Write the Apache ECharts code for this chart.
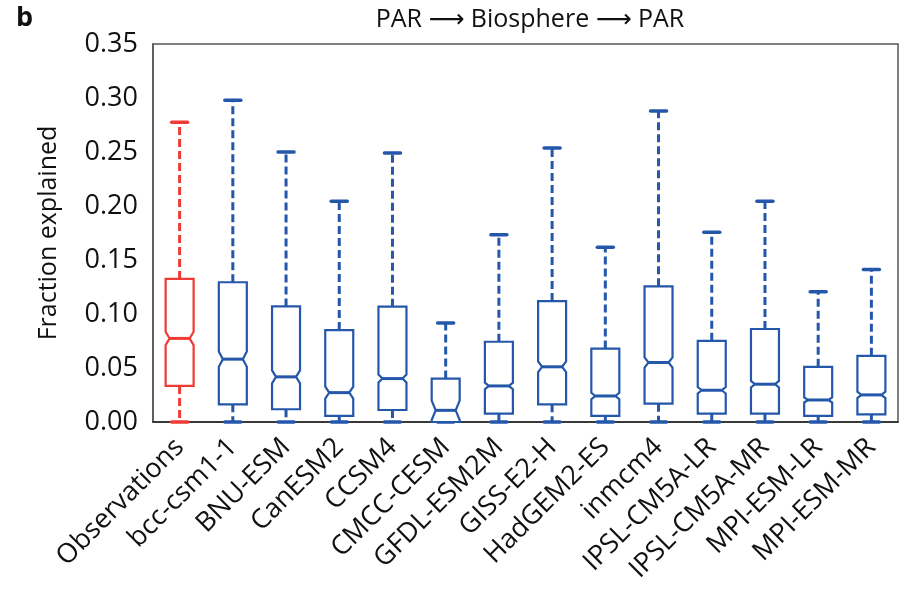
<!DOCTYPE html>
<html>
<head>
<meta charset="utf-8">
<title>PAR → Biosphere → PAR</title>
<script src="https://cdn.jsdelivr.net/npm/echarts@6/dist/echarts.min.js"></script>
<style>
  html, body { margin: 0; padding: 0; background: #fff; }
  #chart { width: 904px; height: 591px; }
</style>
</head>
<body>
<div id="chart"></div>
<script>
// Box statistics for each dataset (fraction explained)
const categories = ['Observations', 'bcc-csm1-1', 'BNU-ESM', 'CanESM2', 'CCSM4', 'CMCC-CESM',
  'GFDL-ESM2M', 'GISS-E2-H', 'HadGEM2-ES', 'inmcm4', 'IPSL-CM5A-LR', 'IPSL-CM5A-MR',
  'MPI-ESM-LR', 'MPI-ESM-MR'];
const whiskerLow  = [0, 0, 0, 0, 0, 0, 0, 0, 0, 0, 0, 0, 0, 0];
const lowerQuart  = [0.0334, 0.0164, 0.0118, 0.0056, 0.0111, 0.0, 0.0077, 0.0164, 0.0056, 0.0170, 0.0077, 0.0077, 0.0056, 0.0071];
const medians     = [0.0774, 0.0582, 0.0418, 0.0272, 0.0402, 0.0108, 0.0334, 0.0511, 0.0241, 0.0551, 0.0294, 0.0350, 0.0204, 0.0251];
const upperQuart  = [0.1325, 0.1294, 0.1070, 0.0851, 0.1068, 0.0402, 0.0743, 0.1120, 0.0680, 0.1256, 0.0752, 0.0861, 0.0511, 0.0613];
const whiskerHigh = [0.2776, 0.2980, 0.2500, 0.2043, 0.2490, 0.0916, 0.1733, 0.2538, 0.1618, 0.2880, 0.1758, 0.2043, 0.1207, 0.1411];
// half-height of the median notch (confidence interval of the median)
const notchHalf   = [0.0062, 0.0070, 0.0060, 0.0055, 0.0037, 0.0090, 0.0030, 0.0050, 0.0030, 0.0047, 0.0030, 0.0030, 0.0023, 0.0030];
const yTicks = [0, 0.05, 0.10, 0.15, 0.20, 0.25, 0.30, 0.35];

const RED = '#ef3b34';
const BLUE = '#2457aa';
const FONT = '"Open Sans", "Noto Sans", "DejaVu Sans", sans-serif';

const seriesData = categories.map((c, i) => [i, whiskerLow[i], lowerQuart[i], medians[i], upperQuart[i], whiskerHigh[i], notchHalf[i]]);

function renderNotchedBox(params, api) {
  const idx = api.value(0);
  const lo = api.value(1), q1 = api.value(2), med = api.value(3), q3 = api.value(4), hi = api.value(5), nh = api.value(6);
  const color = categories[idx] === 'Observations' ? RED : BLUE;
  const cx = api.coord([idx, med])[0];
  const y = v => api.coord([idx, v])[1];
  const half = 14, inset = 4, capHalf = 8;
  const xL = cx - half, xR = cx + half;
  const yQ1 = y(q1), yQ3 = y(q3), yMed = y(med);
  const yNH = y(Math.min(med + nh, q3));
  const yNL = y(Math.max(med - nh, q1));
  const yLo = y(lo), yHi = y(hi);
  const boxStyle = { stroke: color, fill: '#fff', lineWidth: 2.2, lineJoin: 'miter' };
  const whiskStyle = { stroke: color, lineWidth: 3, lineDash: [8, 4] };
  const capStyle = { stroke: color, lineWidth: 3.5, lineCap: 'round' };
  return {
    type: 'group',
    children: [
      { type: 'line', shape: { x1: cx, y1: yQ3, x2: cx, y2: yHi }, style: whiskStyle },
      { type: 'line', shape: { x1: cx, y1: yQ1, x2: cx, y2: yLo }, style: whiskStyle },
      { type: 'line', shape: { x1: cx - capHalf, y1: yHi, x2: cx + capHalf, y2: yHi }, style: capStyle },
      { type: 'line', shape: { x1: cx - capHalf, y1: yLo, x2: cx + capHalf, y2: yLo }, style: capStyle },
      {
        type: 'polygon',
        shape: { points: [
          [xL, yQ3], [xR, yQ3], [xR, yNH], [xR - inset, yMed], [xR, yNL], [xR, yQ1],
          [xL, yQ1], [xL, yNL], [xL + inset, yMed], [xL, yNH]
        ] },
        style: boxStyle
      },
      { type: 'line', shape: { x1: xL + inset, y1: yMed, x2: xR - inset, y2: yMed }, style: { stroke: color, lineWidth: 3 } }
    ]
  };
}

const chart = echarts.init(document.getElementById('chart'), null, { renderer: 'canvas' });
chart.setOption({
  animation: false,
  backgroundColor: '#fff',
  textStyle: { fontFamily: FONT },
  title: {
    text: 'PAR \u27F6 Biosphere \u27F6 PAR',
    left: 525, top: 2, textAlign: 'center',
    textStyle: { fontFamily: FONT, fontSize: 25, fontWeight: 'normal', color: '#111' }
  },
  graphic: [{
    type: 'text', left: 16, top: 5,
    style: { text: 'b', font: 'bold 27px ' + FONT, fill: '#111' }
  }],
  grid: {
    left: 153, right: 6, top: 44, bottom: 169,
    show: true, borderColor: '#555', borderWidth: 1.5, backgroundColor: 'transparent'
  },
  xAxis: {
    type: 'category',
    data: categories,
    boundaryGap: true,
    axisLine: { lineStyle: { color: '#222', width: 1.5 } },
    axisTick: { inside: true, length: 5, alignWithLabel: true, lineStyle: { color: '#222', width: 1.5 } },
    axisLabel: { rotate: 45, margin: 21, interval: 0, fontSize: 27, color: '#111', fontFamily: FONT },
    splitLine: { show: false }
  },
  yAxis: {
    type: 'value',
    min: 0, max: 0.35, interval: 0.05,
    name: 'Fraction explained',
    nameLocation: 'middle', nameRotate: 90, nameGap: 92,
    nameTextStyle: { fontSize: 25, color: '#111', fontFamily: FONT },
    axisLine: { show: true, lineStyle: { color: '#555', width: 1.5 } },
    axisTick: { inside: true, length: 6, lineStyle: { color: '#555', width: 1.2 } },
    axisLabel: {
      margin: 15, fontSize: 27, color: '#111', fontFamily: FONT,
      formatter: v => {
        const t = yTicks.find(k => Math.abs(k - v) < 1e-9);
        return (t === undefined ? v : t).toFixed(2);
      }
    },
    splitLine: { show: false }
  },
  series: [{
    type: 'custom',
    renderItem: renderNotchedBox,
    encode: { x: 0, y: [1, 2, 3, 4, 5] },
    data: seriesData,
    clip: false,
    z: 3
  }]
});
</script>
</body>
</html>
